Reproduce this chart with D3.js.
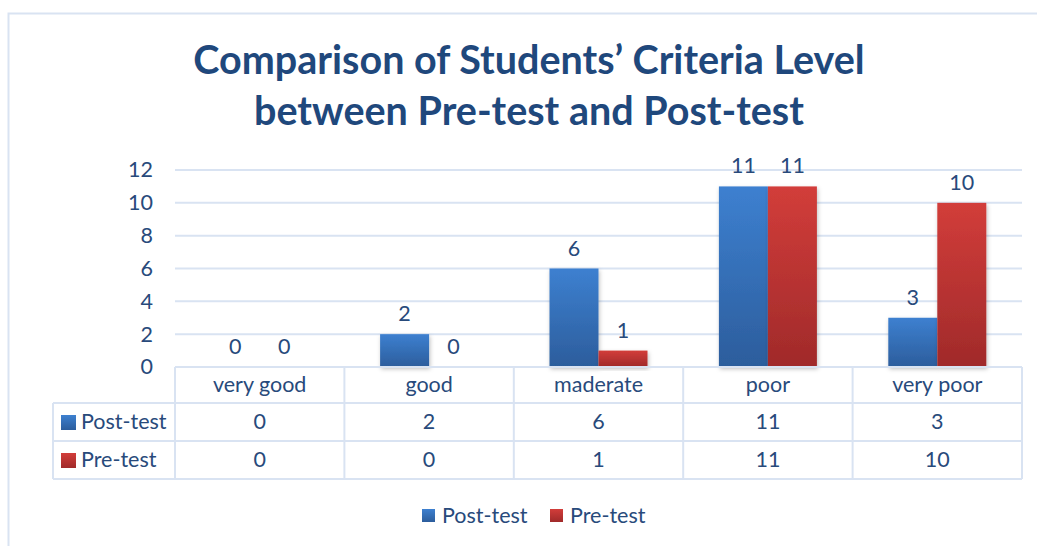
<!DOCTYPE html>
<html>
<head>
<meta charset="utf-8">
<script src="https://cdn.jsdelivr.net/npm/d3@7"></script>
<style>
  html, body { margin: 0; padding: 0; background: #fff; }
  svg { display: block; font-family: Lato, "Open Sans", sans-serif; }
</style>
</head>
<body>
<svg id="chart" width="1037" height="546"></svg>
<script>
// chart data
const categories = ["very good", "good", "maderate", "poor", "very poor"];
const seriesNames = ["Post-test", "Pre-test"];
const postTest = [0, 2, 6, 11, 3];
const preTest = [0, 0, 1, 11, 10];
const yTicks = [0, 2, 4, 6, 8, 10, 12];
const titleLines = ["Comparison of Students\u2019 Criteria Level", "between Pre-test and Post-test"];

const width = 1037, height = 546;
const plot = { left: 175, right: 1022, top: 170, bottom: 367 };
const tableLeft = 53;
const textColor = "#284a7b";
const lineColor = "#d9e3f2";
const fontSize = "21.5px";

const svg = d3.select("#chart");

// gradients for bars
const defs = svg.append("defs");
const grads = [
  { id: "gPost", top: "#3d80d0", bottom: "#2c5d9c" },
  { id: "gPre", top: "#d23d3a", bottom: "#a02a2a" }
];
grads.forEach(g => {
  const lg = defs.append("linearGradient").attr("id", g.id)
    .attr("x1", 0).attr("y1", 0).attr("x2", 0).attr("y2", 1);
  lg.append("stop").attr("offset", "0%").attr("stop-color", g.top);
  lg.append("stop").attr("offset", "100%").attr("stop-color", g.bottom);
});
const shadow = defs.append("filter").attr("id", "shadow")
  .attr("x", "-10%").attr("y", "-10%").attr("width", "130%").attr("height", "130%");
shadow.append("feDropShadow").attr("dx", 1).attr("dy", 2).attr("stdDeviation", 2)
  .attr("flood-color", "#000").attr("flood-opacity", 0.25);

// outer chart border
svg.append("rect")
  .attr("x", 8.5).attr("y", 13.5)
  .attr("width", width).attr("height", height)
  .attr("fill", "none").attr("stroke", lineColor).attr("stroke-width", 2);

// title
const title = svg.append("text")
  .attr("text-anchor", "middle")
  .attr("font-weight", "bold")
  .attr("font-size", "39.5px")
  .attr("fill", "#1f487c");
titleLines.forEach((t, i) => {
  title.append("tspan").attr("x", 529).attr("y", 74 + i * 51).text(t);
});

// scales
const x = d3.scaleBand().domain(categories).range([plot.left, plot.right]);
const xs = d3.scaleBand().domain(seriesNames)
  .range([x.bandwidth() / 2 - 49, x.bandwidth() / 2 + 49]);
const y = d3.scaleLinear().domain([0, 12]).range([plot.bottom, plot.top]);

// gridlines
svg.append("g").selectAll("line")
  .data(yTicks.filter(d => d > 0))
  .join("line")
  .attr("x1", plot.left).attr("x2", plot.right)
  .attr("y1", d => y(d)).attr("y2", d => y(d))
  .attr("stroke", lineColor).attr("stroke-width", 2);

// y axis
const yAxis = svg.append("g")
  .attr("transform", `translate(${plot.left}, 0)`)
  .call(d3.axisLeft(y).tickValues(yTicks).tickSize(0).tickPadding(22));
yAxis.select(".domain").remove();
yAxis.selectAll("text").attr("font-size", fontSize).attr("fill", textColor)
  .attr("font-family", "Lato, 'Open Sans', sans-serif");

// bars
const series = [
  { name: "Post-test", values: postTest, fill: "url(#gPost)" },
  { name: "Pre-test", values: preTest, fill: "url(#gPre)" }
];
const barData = [];
series.forEach(s => s.values.forEach((v, i) => barData.push({ cat: categories[i], name: s.name, v, fill: s.fill })));

svg.append("g").selectAll("rect")
  .data(barData.filter(d => d.v > 0))
  .join("rect")
  .attr("x", d => x(d.cat) + xs(d.name))
  .attr("y", d => y(d.v))
  .attr("width", xs.bandwidth())
  .attr("height", d => y(0) - y(d.v))
  .attr("fill", d => d.fill)
  .attr("filter", "url(#shadow)");

// value labels
svg.append("g").selectAll("text")
  .data(barData)
  .join("text")
  .attr("x", d => x(d.cat) + xs(d.name) + xs.bandwidth() / 2)
  .attr("y", d => y(d.v) - 13)
  .attr("text-anchor", "middle")
  .attr("font-size", fontSize)
  .attr("fill", textColor)
  .text(d => d.v);

// data table
const table = svg.append("g");
const row0 = plot.bottom, row1 = plot.bottom + 36, row2 = row1 + 38, row3 = row2 + 38;
function hline(x1, x2, yy) {
  table.append("line").attr("x1", x1).attr("x2", x2).attr("y1", yy).attr("y2", yy)
    .attr("stroke", lineColor).attr("stroke-width", 2);
}
function vline(xx, y1, y2) {
  table.append("line").attr("x1", xx).attr("x2", xx).attr("y1", y1).attr("y2", y2)
    .attr("stroke", lineColor).attr("stroke-width", 2);
}
hline(plot.left, plot.right, row0);
hline(tableLeft, plot.right, row1);
hline(tableLeft, plot.right, row2);
hline(tableLeft, plot.right, row3);
vline(tableLeft, row1, row3);
vline(plot.left, row0, row3);
categories.forEach(c => vline(x(c) + x.bandwidth(), row0, row3));

// category labels
table.selectAll("text.cat")
  .data(categories)
  .join("text")
  .attr("class", "cat")
  .attr("x", d => x(d) + x.bandwidth() / 2)
  .attr("y", row0 + 25)
  .attr("text-anchor", "middle")
  .attr("font-size", fontSize)
  .attr("fill", textColor)
  .text(d => d);

series.forEach((s, si) => {
  const top = si === 0 ? row1 : row2;
  table.append("rect")
    .attr("x", 61).attr("y", top + 12)
    .attr("width", 15).attr("height", 15)
    .attr("fill", s.fill);
  table.append("text")
    .attr("x", 81).attr("y", top + 26)
    .attr("font-size", fontSize).attr("fill", textColor)
    .text(s.name);
  table.selectAll(null)
    .data(s.values)
    .join("text")
    .attr("x", (d, i) => x(categories[i]) + x.bandwidth() / 2)
    .attr("y", top + 26)
    .attr("text-anchor", "middle")
    .attr("font-size", fontSize)
    .attr("fill", textColor)
    .text(d => d);
});

// legend
const legendItems = [
  { name: "Post-test", fill: "url(#gPost)", x: 422 },
  { name: "Pre-test", fill: "url(#gPre)", x: 550 }
];
const legend = svg.append("g");
legendItems.forEach(l => {
  legend.append("rect").attr("x", l.x).attr("y", 509)
    .attr("width", 13).attr("height", 13).attr("fill", l.fill);
  legend.append("text").attr("x", l.x + 20).attr("y", 523)
    .attr("font-size", fontSize).attr("fill", textColor).text(l.name);
});
</script>
</body>
</html>
